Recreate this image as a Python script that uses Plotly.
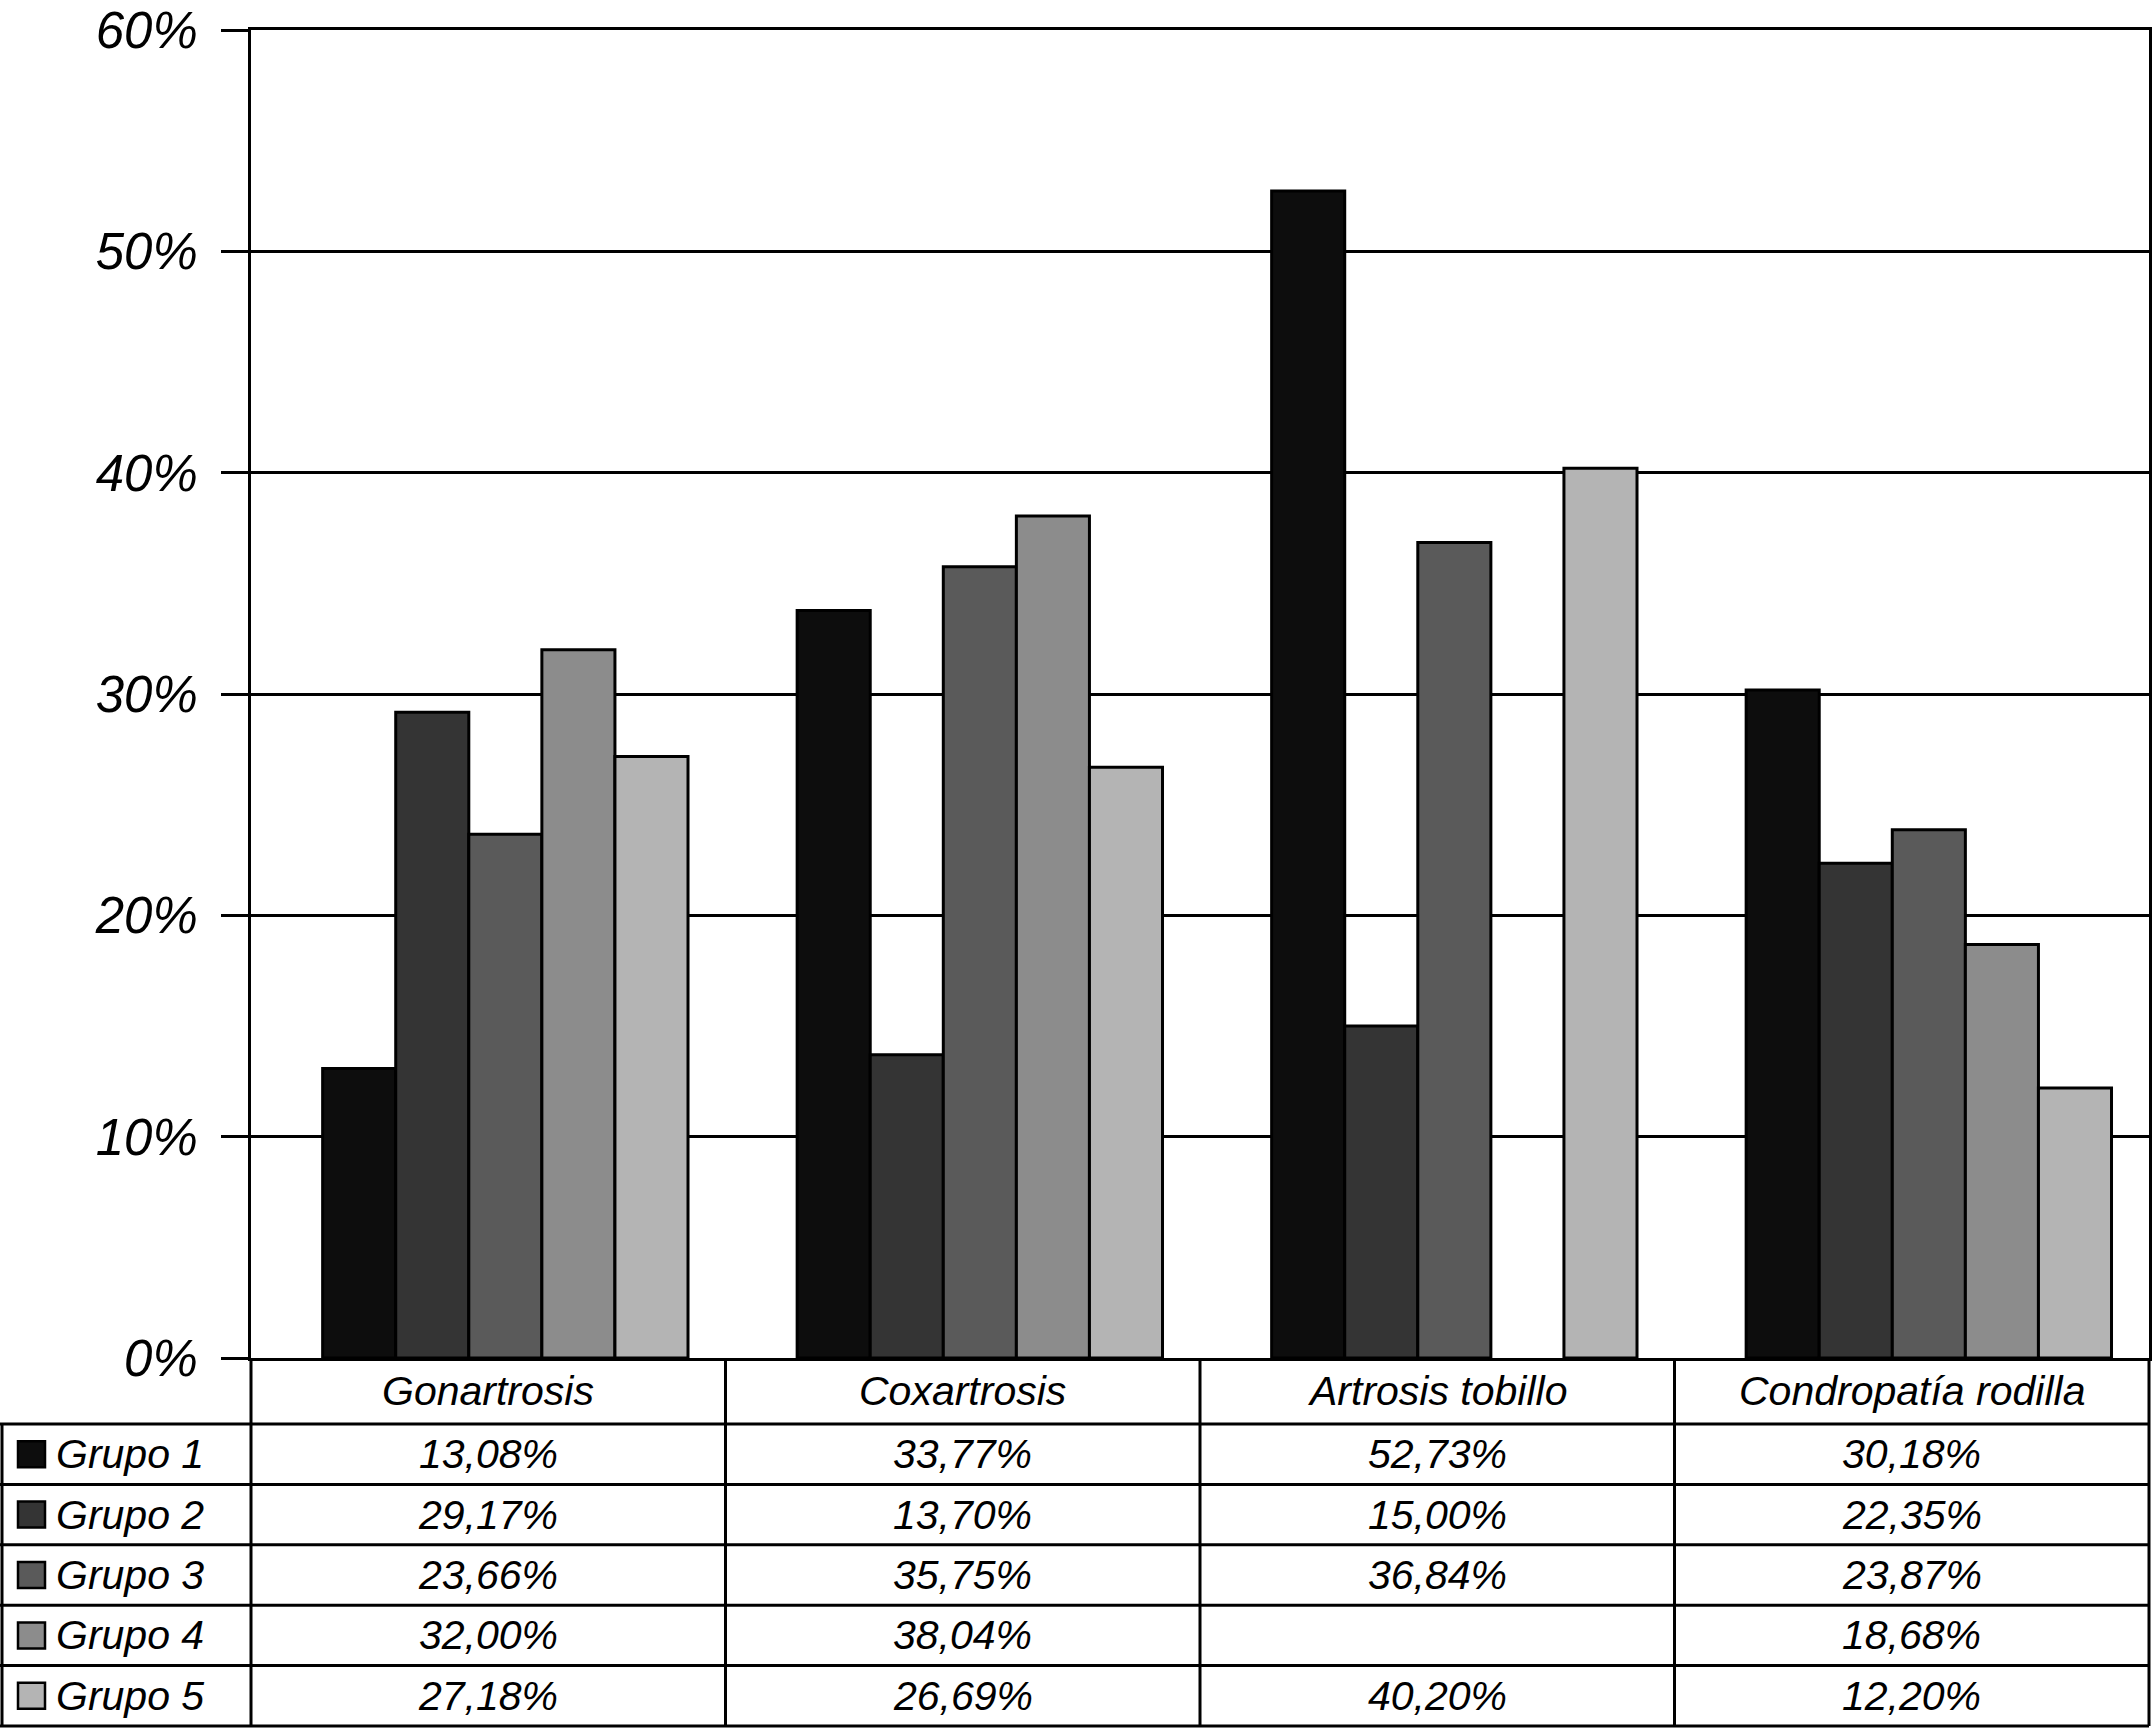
import plotly.graph_objects as go

# ---------------- data ----------------
categories = ["Gonartrosis", "Coxartrosis", "Artrosis tobillo", "Condropatía rodilla"]
groups = ["Grupo 1", "Grupo 2", "Grupo 3", "Grupo 4", "Grupo 5"]
grupo1 = [13.08, 33.77, 52.73, 30.18]
grupo2 = [29.17, 13.70, 15.00, 22.35]
grupo3 = [23.66, 35.75, 36.84, 23.87]
grupo4 = [32.00, 38.04, None, 18.68]
grupo5 = [27.18, 26.69, 40.20, 12.20]
y_ticks = [0, 10, 20, 30, 40, 50, 60]

series = [grupo1, grupo2, grupo3, grupo4, grupo5]
colors = ["#0d0d0d", "#343434", "#5a5a5a", "#8c8c8c", "#b4b4b4"]

# ---------------- layout geometry (pixels) ----------------
W, H = 2153, 1729
L, R, T = 251, 2149, 30
PLOT_BOTTOM = 1358
TABLE_BOTTOM = 1726
HEADER_BOTTOM = 1424
PW = R - L
PH = TABLE_BOTTOM - T
ROW_H = (TABLE_BOTTOM - HEADER_BOTTOM) / len(groups)
FONT = "Liberation Sans, Arial, Helvetica, sans-serif"
TXT = 41
SHIFT = 0.036  # bars sit slightly right of the table column centres


def px(p):
    return (p - L) / PW


def py(p):
    return (TABLE_BOTTOM - p) / PH


fig = go.Figure()
for name, vals, col in zip(groups, series, colors):
    fig.add_trace(go.Bar(
        x=categories, y=vals, name=name,
        marker=dict(color=col, line=dict(color="black", width=3)),
        showlegend=False,
    ))

shapes = []
line = dict(color="black", width=3)
# horizontal table lines
shapes.append(dict(type="line", xref="paper", yref="paper",
                   x0=px(0), x1=1, y0=py(HEADER_BOTTOM), y1=py(HEADER_BOTTOM), line=line))
for k in range(1, len(groups) + 1):
    yy = HEADER_BOTTOM + k * ROW_H
    shapes.append(dict(type="line", xref="paper", yref="paper",
                       x0=px(0), x1=1, y0=py(yy), y1=py(yy), line=line))
# vertical table lines
ncat = len(categories)
for i in range(ncat + 1):
    shapes.append(dict(type="line", xref="paper", yref="paper",
                       x0=i / ncat, x1=i / ncat, y0=py(PLOT_BOTTOM), y1=0, line=line))
shapes.append(dict(type="line", xref="paper", yref="paper",
                   x0=px(2), x1=px(2), y0=py(HEADER_BOTTOM), y1=0, line=line))

annotations = []
# header
for i, c in enumerate(categories):
    annotations.append(dict(xref="paper", yref="paper", x=(i + 0.5) / ncat,
                            y=py((PLOT_BOTTOM + HEADER_BOTTOM) / 2), text=c, showarrow=False,
                            xanchor="center", yanchor="middle",
                            font=dict(family=FONT, size=TXT, color="black", style="italic")))
# rows
for r, (name, vals, col) in enumerate(zip(groups, series, colors)):
    yc = HEADER_BOTTOM + (r + 0.5) * ROW_H
    shapes.append(dict(type="rect", xref="paper", yref="paper",
                       x0=px(18), x1=px(45), y0=py(yc - 13), y1=py(yc + 13),
                       fillcolor=col, line=dict(color="black", width=2.5)))
    annotations.append(dict(xref="paper", yref="paper", x=px(54), y=py(yc), text=name,
                            showarrow=False, xanchor="left", yanchor="middle",
                            font=dict(family=FONT, size=TXT, color="black", style="italic")))
    for i, v in enumerate(vals):
        txt = "" if v is None else f"{v:.2f}".replace(".", ",") + "%"
        if txt:
            annotations.append(dict(xref="paper", yref="paper", x=(i + 0.5) / ncat, y=py(yc),
                                    text=txt, showarrow=False, xanchor="center", yanchor="middle",
                                    font=dict(family=FONT, size=TXT, color="black", style="italic")))

fig.update_layout(
    width=W, height=H,
    margin=dict(l=L, r=W - R, t=T, b=H - TABLE_BOTTOM, autoexpand=False),
    paper_bgcolor="white", plot_bgcolor="white",
    barmode="group", bargap=0.23, bargroupgap=0,
    shapes=shapes, annotations=annotations,
    xaxis=dict(range=[-0.5 - SHIFT, ncat - 0.5 - SHIFT], showticklabels=False, ticks="",
               showgrid=False, showline=True, linecolor="black", linewidth=3, mirror=True,
               zeroline=False, fixedrange=True, automargin=False),
    yaxis=dict(domain=[py(PLOT_BOTTOM), 1], range=[0, 60], tickvals=y_ticks,
               ticktext=[f"{t}%" for t in y_ticks], ticks="outside", ticklen=27, tickwidth=3,
               tickcolor="black", ticklabelstandoff=13, automargin=False,
               tickfont=dict(family=FONT, size=51, color="black", style="italic"),
               showgrid=True, gridcolor="black", gridwidth=3,
               showline=True, linecolor="black", linewidth=3, mirror=True, zeroline=False),
)

fig.write_html("out.html", config={"displayModeBar": False},
               post_script="document.body.style.margin='0';")
